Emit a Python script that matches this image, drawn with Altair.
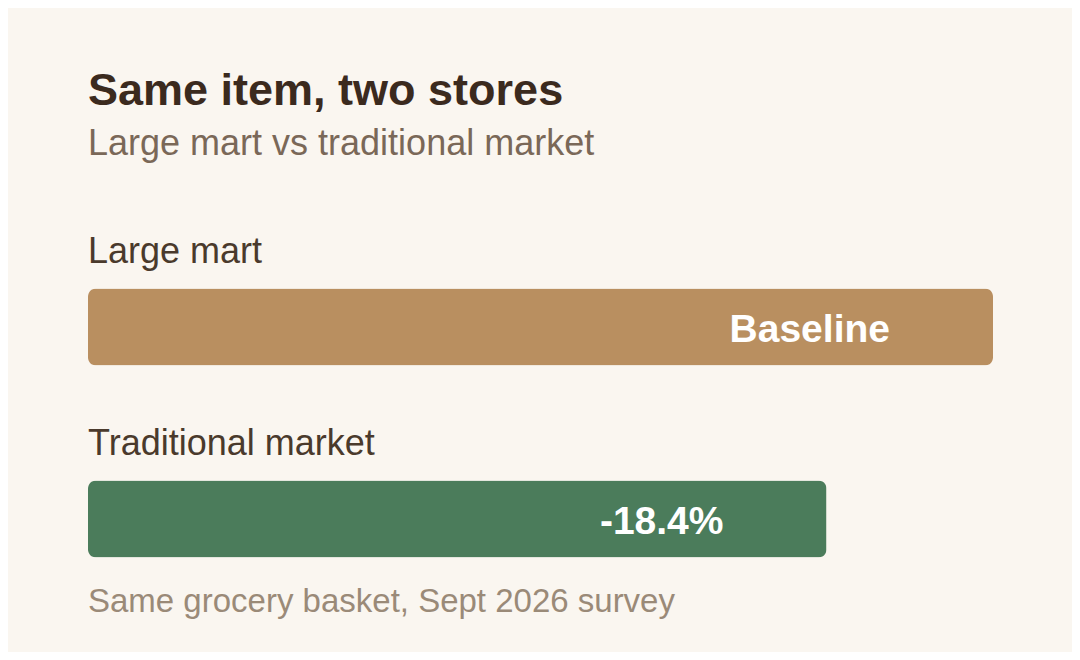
import altair as alt
import pandas as pd

categories = ["Large mart", "Traditional market"]
price_index = [100, 81.6]
bar_labels = ["Baseline", "-18.4%"]
bar_colors = ["#b98f60", "#4b7c5b"]
footnote = "Same grocery basket, Sept 2026 survey"

df = pd.DataFrame({"store": categories, "index": price_index, "label": bar_labels})

FONT = "Liberation Sans"
W, H = 905, 384

y_enc = alt.Y("store:N", sort=categories, axis=None,
              scale=alt.Scale(domain=categories, paddingInner=0, paddingOuter=0))
x_scale = alt.Scale(domain=[0, 100], nice=False, zero=True)

base = alt.Chart(df)

bars = base.mark_bar(height=77, cornerRadius=8).encode(
    x=alt.X("index:Q", scale=x_scale, axis=None),
    y=y_enc,
    color=alt.Color("store:N", scale=alt.Scale(domain=categories, range=bar_colors), legend=None),
)

values = base.mark_text(align="right", baseline="middle", dx=-103, dy=3,
                        font=FONT, fontSize=39, fontWeight="bold", color="#ffffff").encode(
    x=alt.X("index:Q", scale=x_scale),
    y=y_enc,
    text="label:N",
)

cat_labels = base.mark_text(align="left", baseline="alphabetic", dy=-64,
                            font=FONT, fontSize=36, color="#4a3a2c").encode(
    x=alt.value(0),
    y=y_enc,
    text="store:N",
)

note = alt.Chart(pd.DataFrame({"t": [footnote]})).mark_text(
    align="left", baseline="alphabetic", font=FONT, fontSize=33, color="#9a8a78"
).encode(x=alt.value(0), y=alt.value(381), text="t:N")

chart = alt.layer(bars, values, cat_labels, note).properties(
    width=W, height=H,
    title=alt.Title(
        "Same item, two stores",
        subtitle="Large mart vs traditional market",
        anchor="start", frame="group", offset=69,
        font=FONT, fontSize=45, fontWeight="bold", color="#3b2a1e",
        subtitleFont=FONT, subtitleFontSize=36, subtitleColor="#7a6858",
        subtitlePadding=13,
    ),
    autosize=alt.AutoSizeParams(type="none"),
    padding={"left": 80, "top": 223, "right": 79, "bottom": 37},
    background="#faf6f0",
).configure_view(stroke=None)

chart.save("out.html", embed_options={"renderer": "svg", "actions": False})
